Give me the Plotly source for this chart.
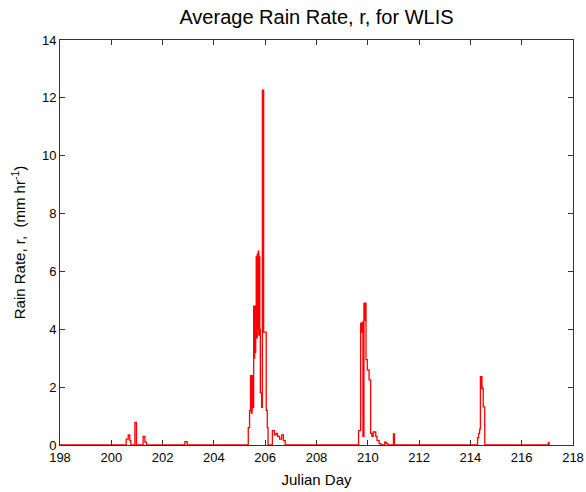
import plotly.graph_objects as go

# Breakpoints of the step series (Julian day, rain rate mm/hr)
julian_day = [
    198.00,
    200.58, 200.66, 200.72, 200.76, 200.92, 200.98, 201.24, 201.31, 201.37,
    202.87, 202.96,
    205.34, 205.39, 205.43, 205.46, 205.49, 205.52, 205.55, 205.57, 205.59,
    205.61, 205.63, 205.65, 205.67, 205.69, 205.71, 205.73, 205.75, 205.77,
    205.79, 205.81, 205.86, 205.89, 205.94, 206.04, 206.08, 206.11, 206.28,
    206.36, 206.42, 206.48, 206.56, 206.64, 206.71, 206.78,
    209.64, 209.72, 209.76, 209.78, 209.81, 209.85, 209.88, 209.90, 209.93,
    209.98, 210.05, 210.11, 210.16, 210.21, 210.31, 210.36, 210.44, 210.51,
    210.66, 210.72, 210.78, 211.00, 211.04,
    214.28, 214.32, 214.36, 214.39, 214.41, 214.43, 214.45, 214.47, 214.50,
    214.56,
    217.04, 217.07,
]
rain_rate = [
    0.0,
    0.2, 0.35, 0.15, 0.0, 0.78, 0.0, 0.3, 0.1, 0.0,
    0.12, 0.0,
    0.6, 1.2, 2.4, 1.1, 2.4, 1.3, 4.8, 3.0, 4.8,
    3.2, 4.6, 6.5, 3.7, 6.6, 4.0, 6.7, 3.8, 6.5,
    4.0, 1.8, 1.3, 12.27, 3.9, 1.2, 0.6, 0.0, 0.5,
    0.35, 0.4, 0.3, 0.2, 0.35, 0.15, 0.0,
    0.5, 4.2, 3.9, 4.25, 0.3, 4.9, 4.3, 4.9, 2.95,
    2.6, 2.25, 0.4, 0.3, 0.45, 0.3, 0.15, 0.05, 0.0,
    0.1, 0.05, 0.0, 0.38, 0.0,
    0.25, 0.4, 0.55, 2.36, 1.95, 2.36, 2.0, 1.95, 1.32,
    0.0,
    0.08, 0.0,
]

x_ticks = list(range(198, 219, 2))
y_ticks = list(range(0, 15, 2))

fig = go.Figure()
fig.add_trace(go.Scatter(
    x=julian_day, y=rain_rate, mode="lines",
    line=dict(color="#ff0000", width=1.3, shape="hv"),
    showlegend=False,
))

font_family = "Liberation Sans, Arial, sans-serif"
axis_common = dict(
    showline=True, linecolor="#333333", linewidth=1, mirror="ticks",
    ticks="inside", ticklen=5, tickcolor="#333333", tickwidth=1,
    showgrid=False, zeroline=False, automargin=False,
    tickfont=dict(family=font_family, size=13, color="#000000"),
)

fig.update_layout(
    width=586, height=492,
    margin=dict(l=60, r=13, t=40, b=47, autoexpand=False),
    paper_bgcolor="white", plot_bgcolor="white",
    title=dict(
        text="Average Rain Rate, r, for WLIS",
        x=0.5, xanchor="center", xref="paper",
        y=1 - 17 / 492, yref="container", yanchor="middle",
        font=dict(family=font_family, size=20, color="#000000"),
    ),
    xaxis=dict(
        range=[198, 218], tickvals=x_ticks,
        title=dict(text="Julian Day", standoff=10,
                   font=dict(family=font_family, size=15, color="#000000")),
        **axis_common,
    ),
    yaxis=dict(
        range=[0, 14], tickvals=y_ticks,
        title=dict(text="Rain Rate, r,  (mm hr<sup>-1</sup>)", standoff=12,
                   font=dict(family=font_family, size=15, color="#000000")),
        **axis_common,
    ),
)

fig.write_html("out.html")
